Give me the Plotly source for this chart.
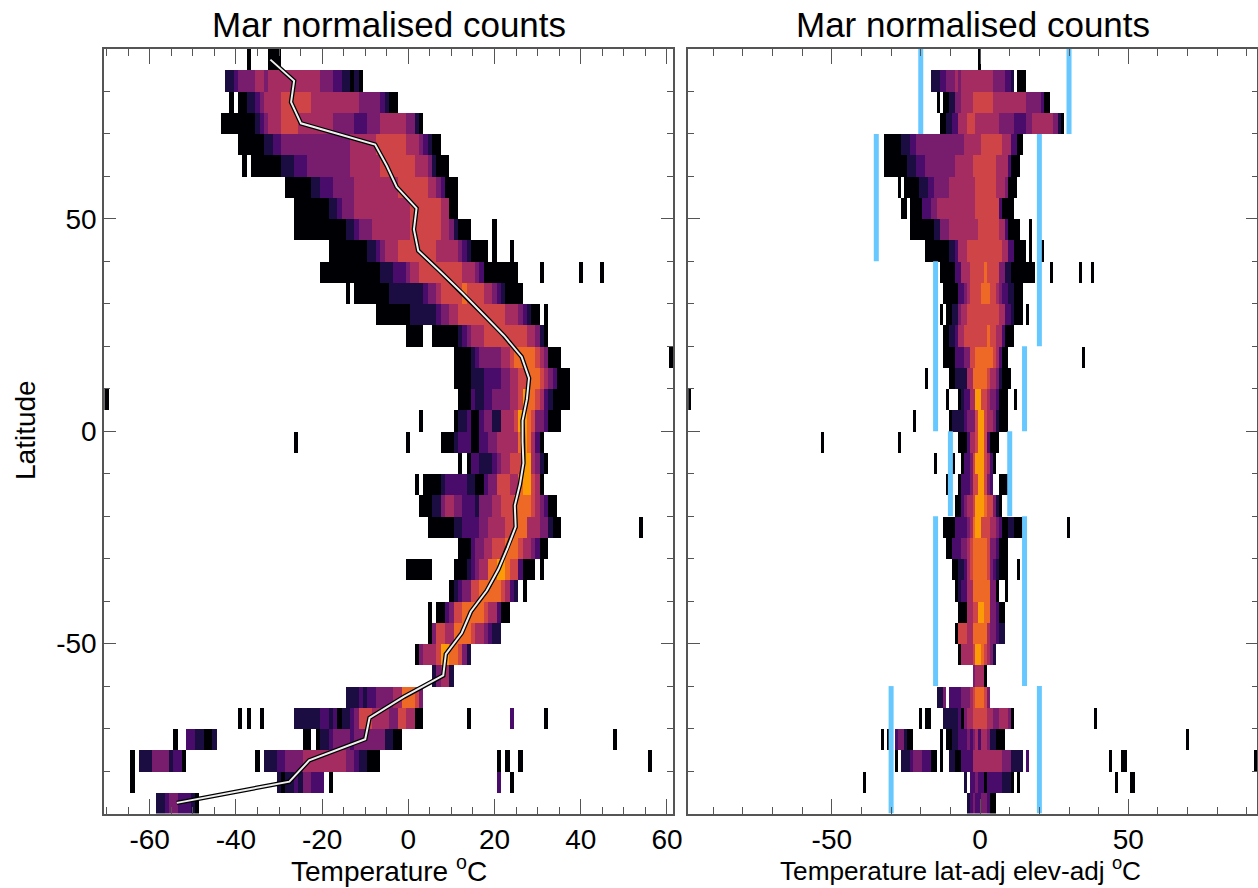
import plotly.graph_objects as go

# ---- latitude bands (centres, north to south); temperature bins are 1 degree wide ----
lat_centres = [87.5 - 5 * i for i in range(36)]
left_bins = list(range(-70, 62))
right_bins = list(range(-98, 94))

# colour levels of the normalised counts
level_colours = ["#000004", "#1b0c41", "#4a0c6b", "#781c6d", "#a52c60", "#cf4446", "#ed6925", "#fb9b06"]

# each row: runs of (first temperature bin, last temperature bin, level)
left_rows = [
 [(-37,-37,0),(-32,-30,0)],
 [(-42,-41,1),(-40,-40,2),(-39,-36,3),(-35,-34,4),(-33,-33,3),(-32,-21,4),(-20,-18,3),(-17,-16,2),(-15,-14,1),(-13,-13,0),(-12,-12,1),(-11,-11,0)],
 [(-41,-41,0),(-39,-38,0),(-37,-36,1),(-35,-35,2),(-34,-34,3),(-33,-30,4),(-29,-23,5),(-22,-12,4),(-11,-7,3),(-6,-6,2),(-5,-5,1),(-4,-3,0)],
 [(-43,-36,0),(-35,-35,1),(-34,-34,2),(-33,-33,3),(-32,-30,4),(-29,-26,5),(-25,-18,4),(-17,-13,3),(-12,-10,2),(-9,-7,3),(-6,-1,4),(0,1,3),(2,2,1),(3,3,0)],
 [(-39,-34,0),(-33,-32,1),(-31,-30,2),(-29,-14,3),(-13,-8,4),(-7,-1,5),(0,2,4),(3,3,3),(4,4,2),(5,5,1),(6,7,0)],
 [(-38,-38,0),(-36,-30,0),(-29,-27,1),(-26,-24,2),(-23,-14,3),(-13,-7,4),(-6,1,5),(2,4,4),(5,5,3),(6,6,1),(7,9,0)],
 [(-28,-23,0),(-22,-21,1),(-20,-18,2),(-17,-13,3),(-12,-3,4),(-2,4,5),(5,6,4),(7,7,3),(8,8,2),(9,11,0)],
 [(-26,-19,0),(-18,-17,1),(-16,-16,2),(-15,-13,3),(-12,0,4),(1,7,5),(8,9,4),(10,11,0)],
 [(-26,-15,0),(-14,-13,1),(-12,-12,2),(-11,-9,3),(-8,0,4),(1,7,5),(8,9,4),(10,10,3),(11,11,1),(12,14,0),(20,20,0)],
 [(-18,-10,0),(-9,-8,1),(-7,-7,2),(-6,-6,3),(-5,-3,4),(-2,6,5),(7,11,4),(12,12,3),(13,13,2),(14,14,1),(15,18,0),(20,20,0),(24,24,0)],
 [(-20,-7,0),(-6,-4,1),(-3,-1,2),(0,0,3),(1,2,4),(3,12,5),(13,15,4),(16,16,3),(17,17,2),(18,25,0),(31,31,0),(40,40,0),(45,45,0)],
 [(-14,-14,0),(-12,-5,0),(-4,3,1),(4,4,2),(5,6,3),(7,7,4),(8,12,5),(13,13,6),(14,17,5),(18,19,4),(20,20,3),(21,21,2),(22,22,1),(23,26,0)],
 [(-7,0,0),(1,6,1),(7,7,2),(8,9,3),(10,11,4),(12,22,5),(23,25,4),(26,26,3),(27,27,2),(28,28,1),(29,30,0),(32,32,0)],
 [(0,3,0),(6,11,0),(12,12,1),(13,13,2),(14,14,3),(15,17,4),(18,27,5),(28,29,4),(30,30,3),(31,31,1),(32,32,0)],
 [(11,14,0),(15,15,1),(16,16,2),(17,21,3),(22,23,4),(24,24,5),(25,29,6),(30,30,5),(31,31,4),(32,32,3),(33,35,0),(61,61,0)],
 [(11,14,0),(15,17,1),(18,21,2),(22,23,3),(24,25,4),(26,27,5),(28,30,6),(31,31,5),(32,32,4),(33,33,3),(34,34,2),(35,37,0)],
 [(-70,-70,0),(12,14,0),(15,15,2),(16,17,1),(18,19,2),(20,23,3),(24,25,4),(26,26,5),(27,27,7),(28,29,6),(30,30,5),(31,31,4),(32,32,2),(33,33,1),(34,37,0)],
 [(3,3,0),(11,11,0),(12,13,1),(14,14,2),(15,16,0),(17,17,2),(18,19,3),(20,21,1),(22,24,4),(25,25,5),(26,26,7),(27,27,7),(28,28,6),(29,29,5),(30,31,3),(32,32,2),(33,35,0)],
 [(-26,-26,0),(0,0,0),(8,10,0),(11,11,1),(12,14,2),(15,16,0),(17,18,2),(19,20,3),(21,25,4),(26,26,6),(27,27,7),(28,28,6),(29,29,4),(30,30,2),(31,31,0)],
 [(12,12,0),(14,14,0),(15,16,2),(17,19,1),(20,20,2),(21,21,3),(22,23,4),(24,26,5),(27,28,7),(29,29,4),(30,30,3),(31,31,1),(32,32,0)],
 [(2,2,0),(4,7,0),(8,8,1),(9,10,2),(11,13,2),(14,15,1),(16,17,0),(18,18,2),(19,20,3),(21,23,5),(24,25,4),(26,26,6),(27,28,7),(29,29,5),(30,30,4),(31,31,0)],
 [(3,5,0),(6,7,1),(8,8,3),(9,10,4),(11,12,3),(13,15,2),(16,16,1),(17,19,3),(20,21,4),(22,24,5),(25,28,6),(29,29,5),(30,30,4),(31,31,3),(32,32,2),(33,34,0)],
 [(5,10,0),(11,12,1),(13,16,2),(17,18,3),(19,22,4),(23,24,5),(25,27,6),(28,30,4),(31,32,3),(33,33,1),(34,35,0),(54,54,0)],
 [(12,14,0),(15,15,2),(16,17,3),(18,19,4),(20,22,5),(23,25,6),(26,26,5),(27,28,4),(29,29,3),(30,30,2),(31,32,0)],
 [(0,5,0),(11,13,0),(14,14,1),(15,15,2),(16,16,3),(17,18,4),(19,20,6),(21,22,7),(23,23,6),(24,25,5),(26,26,2),(27,29,0),(31,31,0)],
 [(10,10,0),(11,11,1),(12,12,2),(13,14,3),(15,16,5),(17,21,6),(22,22,5),(23,23,4),(24,24,2),(25,25,1),(27,27,0)],
 [(5,5,0),(7,8,0),(9,9,2),(10,10,3),(11,12,5),(13,17,6),(18,18,5),(19,20,4),(21,21,2),(22,23,0)],
 [(5,5,0),(6,6,3),(7,8,5),(9,10,4),(11,14,6),(15,15,5),(16,17,4),(18,18,3),(19,19,2),(20,21,1)],
 [(2,2,0),(3,3,3),(4,6,4),(7,7,5),(8,9,7),(10,11,6),(12,12,5),(13,13,3),(14,14,1)],
 [(6,6,1),(7,7,3),(8,9,4),(10,10,1)],
 [(-14,-12,1),(-11,-11,2),(-10,-10,1),(-9,-8,2),(-7,-4,3),(-3,-2,4),(-1,1,6),(2,2,5),(3,3,3)],
 [(-39,-39,0),(-37,-37,0),(-34,-34,0),(-26,-21,1),(-20,-19,2),(-18,-18,1),(-17,-17,2),(-16,-16,0),(-15,-14,1),(-13,-13,2),(-12,-12,3),(-11,-9,5),(-8,-5,4),(-4,-3,3),(-2,-1,5),(0,1,4),(2,3,0),(14,14,0),(24,24,2),(32,32,0)],
 [(-54,-54,0),(-51,-50,2),(-49,-48,1),(-47,-46,0),(-45,-45,1),(-24,-23,0),(-21,-21,0),(-20,-19,1),(-18,-18,2),(-17,-14,3),(-13,-13,2),(-12,-6,3),(-5,-4,1),(-3,-2,0),(48,48,0)],
 [(-64,-64,0),(-62,-60,1),(-59,-56,3),(-55,-55,1),(-54,-53,2),(-52,-52,0),(-35,-35,0),(-33,-31,1),(-30,-29,2),(-28,-25,3),(-24,-15,4),(-14,-13,3),(-12,-12,2),(-11,-10,1),(-9,-7,0),(21,21,0),(23,23,0),(26,26,0),(56,56,0)],
 [(-64,-64,0),(-30,-30,1),(-29,-29,0),(-28,-27,1),(-26,-26,2),(-25,-25,1),(-24,-23,3),(-22,-20,2),(-18,-18,0),(21,21,2),(24,24,0)],
 [(-58,-57,1),(-56,-56,2),(-55,-54,3),(-53,-51,2),(-50,-50,1),(-49,-49,0)],
]

right_rows = [
 [(0,0,0)],
 [(-16,-14,1),(-13,-12,2),(-11,-9,3),(-8,-8,4),(-7,-7,3),(-6,4,4),(5,8,3),(9,10,2),(11,11,1),(13,15,0)],
 [(-14,-14,0),(-12,-11,0),(-10,-9,1),(-8,-7,3),(-6,-3,4),(-2,4,5),(5,15,4),(16,20,3),(21,21,2),(22,23,0)],
 [(-13,-12,0),(-11,-10,1),(-9,-8,2),(-7,-5,4),(-4,-2,5),(-1,6,4),(7,11,3),(12,15,2),(16,17,3),(18,24,4),(25,26,3),(27,27,1),(28,28,0)],
 [(-32,-27,0),(-26,-24,1),(-23,-22,2),(-21,-6,3),(-5,0,4),(1,7,5),(8,10,4),(11,12,2),(13,14,0)],
 [(-32,-25,0),(-24,-22,1),(-21,-19,2),(-18,-9,3),(-8,-3,4),(-2,5,5),(6,9,4),(10,10,2),(11,13,0)],
 [(-27,-27,0),(-25,-21,0),(-20,-18,1),(-17,-16,2),(-15,-11,3),(-10,-2,4),(-1,5,5),(6,8,4),(9,9,3),(10,12,0)],
 [(-26,-25,0),(-23,-20,0),(-19,-17,2),(-16,-15,3),(-14,-2,4),(-1,6,5),(7,7,2),(8,11,0)],
 [(-23,-16,0),(-15,-14,1),(-13,-11,3),(-10,-1,4),(0,6,5),(7,8,4),(9,9,2),(10,13,0),(17,17,0)],
 [(-18,-11,0),(-10,-9,1),(-8,-8,2),(-7,-5,4),(-4,7,5),(8,9,4),(10,11,2),(12,15,0),(17,17,0),(21,21,0)],
 [(-13,-9,0),(-8,-7,2),(-6,-4,4),(-3,1,5),(2,2,6),(3,6,5),(7,8,3),(9,10,1),(11,18,0),(24,24,0),(34,34,0),(38,38,0)],
 [(-12,-8,0),(-7,-6,2),(-5,-5,3),(-4,-4,4),(-3,0,5),(1,3,6),(4,5,5),(6,6,4),(7,7,3),(8,9,2),(10,11,1),(12,14,0)],
 [(-13,-13,0),(-11,-10,0),(-9,-8,1),(-7,-7,3),(-6,-5,4),(-4,6,5),(7,8,4),(9,10,2),(11,11,1),(12,14,0),(16,16,0)],
 [(-12,-11,0),(-10,-9,1),(-8,-8,2),(-7,-6,4),(-5,2,5),(3,3,6),(4,5,5),(6,7,4),(8,8,2),(9,11,0)],
 [(-12,-9,0),(-8,-6,2),(-5,-4,3),(-3,-2,5),(-1,4,6),(5,5,5),(6,6,4),(7,7,2),(8,9,0),(35,35,0)],
 [(-18,-18,0),(-10,-9,0),(-8,-5,1),(-4,-3,4),(-2,2,6),(3,3,5),(4,5,4),(6,6,3),(7,7,1),(8,10,0)],
 [(-98,-98,0),(-11,-11,0),(-7,-7,0),(-6,-6,1),(-5,-4,2),(-3,-2,4),(-1,0,7),(1,2,5),(3,3,4),(4,5,3),(6,6,2),(7,9,0),(12,12,0)],
 [(-22,-22,0),(-10,-10,0),(-9,-8,1),(-7,-6,1),(-5,-5,2),(-4,-2,3),(-1,-1,5),(0,1,7),(2,2,5),(3,4,4),(5,5,3),(6,6,1),(7,9,0)],
 [(-53,-53,0),(-27,-27,0),(-7,-5,0),(-4,-4,2),(-3,-2,4),(-1,-1,5),(0,1,7),(2,2,5),(3,3,2),(4,6,0)],
 [(-15,-15,0),(-9,-9,0),(-6,-6,0),(-5,-4,2),(-3,-3,3),(-2,-2,5),(-1,1,7),(2,2,5),(3,3,4),(4,4,2),(5,5,0)],
 [(-11,-11,0),(-7,-7,0),(-6,-4,2),(-3,-3,3),(-2,-1,5),(0,1,7),(2,2,5),(3,3,3),(4,4,2),(7,9,0)],
 [(-8,-7,0),(-6,-6,2),(-5,-5,3),(-4,-3,4),(-2,-2,5),(-1,1,7),(2,2,6),(3,4,5),(5,5,3),(6,6,1),(7,7,0)],
 [(-12,-9,0),(-8,-5,2),(-4,-4,3),(-3,-3,4),(-2,-2,6),(-1,0,7),(1,3,5),(4,5,4),(6,6,3),(7,7,2),(8,9,0),(10,11,1),(12,14,0),(30,30,0)],
 [(-11,-10,0),(-9,-7,2),(-6,-5,3),(-4,-4,4),(-3,-3,5),(-2,2,6),(3,3,5),(4,5,3),(6,6,2),(7,9,0)],
 [(-9,-8,0),(-7,-6,1),(-5,-5,2),(-4,-4,4),(-3,-3,5),(-2,2,6),(3,3,5),(4,4,3),(5,5,2),(6,6,1),(7,9,0),(13,13,0)],
 [(-8,-8,0),(-7,-7,1),(-6,-5,2),(-4,-3,4),(-2,3,6),(4,5,3),(6,6,0),(9,9,0)],
 [(-7,-5,0),(-4,-3,4),(-2,-1,5),(0,1,7),(2,3,6),(4,5,3),(6,6,2),(7,8,0)],
 [(-8,-8,0),(-7,-5,5),(-4,-3,4),(-2,2,6),(3,3,4),(4,5,3),(6,6,2),(7,8,1)],
 [(-7,-7,0),(-6,-3,4),(-2,-2,5),(-1,0,7),(1,1,6),(2,2,5),(3,3,4),(4,4,3),(5,5,1)],
 [(-2,-2,3),(-1,1,4),(2,2,0)],
 [(-14,-13,1),(-12,-12,3),(-10,-7,2),(-6,-4,3),(-3,-3,4),(-2,-2,5),(-1,1,6),(2,2,5),(3,3,3)],
 [(-20,-20,0),(-18,-17,0),(-12,-8,1),(-7,-7,2),(-6,-6,0),(-5,-5,3),(-4,-3,4),(-2,2,5),(3,4,4),(5,6,3),(7,9,4),(10,10,3),(11,11,0),(39,39,0)],
 [(-33,-33,0),(-31,-31,0),(-28,-28,2),(-27,-26,3),(-25,-25,1),(-24,-23,0),(-13,-13,0),(-11,-10,0),(-9,-8,1),(-7,-5,2),(-4,-4,3),(-3,-3,2),(-2,-2,3),(-1,-1,4),(0,0,2),(1,2,4),(3,3,3),(4,5,1),(6,8,0),(70,70,0)],
 [(-28,-28,0),(-26,-24,1),(-23,-23,2),(-22,-21,3),(-20,-20,3),(-19,-17,2),(-16,-15,0),(-13,-13,0),(-10,-9,1),(-8,-7,0),(-6,-3,2),(-2,7,4),(8,10,3),(11,14,1),(16,16,2),(44,44,0),(48,49,0),(93,93,0)],
 [(-39,-39,0),(-5,-5,1),(-3,-2,2),(-1,-1,3),(0,1,2),(2,2,0),(3,7,2),(8,10,1),(11,11,0),(13,13,0),(46,46,0),(51,52,0)],
 [(-4,-4,1),(-3,-3,2),(-2,-2,3),(-1,0,2),(1,2,3),(3,3,2),(4,5,0)],
]

# zonal mean temperature for each latitude band
zonal_mean = [-32, -26.5, -27.2, -24.9, -7.7, -5, -2.7, 1.9, 1.3, 2.3, 7.5, 12.6, 17.4, 22.2, 26.3, 28,
              27.5, 26.5, 26.5, 26.7, 25.9, 24.7, 24.9, 23, 20.9, 18.2, 14.5, 12.4, 8.7, 8.1, -1, -9, -10,
              -23, -27.6, -53.7]

# quality-control limits on the adjusted temperature: (lat north, lat south, limit)
lower_limits = [(90, 70, -20), (70, 40, -35), (40, 0, -15), (0, -20, -10), (-20, -60, -15), (-60, -90, -30)]
upper_limits = [(90, 70, 30), (70, 20, 20), (20, 0, 15), (0, -20, 10), (-20, -60, 15), (-60, -90, 20)]

left_ticks = [-60, -40, -20, 0, 20, 40, 60]
right_ticks = [-50, 0, 50]
lat_ticks = [-50, 0, 50]
title_text = "Mar normalised counts"


def grid(rows, bins):
    index = {b: i for i, b in enumerate(bins)}
    z = []
    for runs in rows:
        row = [None] * len(bins)
        for first, last, level in runs:
            for b in range(first, last + 1):
                row[index[b]] = level + 0.5
        z.append(row)
    return z


scale = []
n = len(level_colours)
for i, c in enumerate(level_colours):
    scale += [[i / n, c], [(i + 1) / n, c]]

FONT = "Liberation Sans, Arial, sans-serif"
AX = "#555555"
fig = go.Figure()
for rows, bins, xa, ya in [(left_rows, left_bins, "x", "y"), (right_rows, right_bins, "x2", "y2")]:
    fig.add_trace(go.Heatmap(x=bins, y=lat_centres, z=grid(rows, bins), xaxis=xa, yaxis=ya,
                             colorscale=scale, zmin=0, zmax=n, showscale=False, hoverongaps=False))

fig.add_trace(go.Scatter(x=zonal_mean, y=lat_centres, mode="lines", line=dict(color="black", width=4.5), xaxis="x", yaxis="y"))
fig.add_trace(go.Scatter(x=zonal_mean, y=lat_centres, mode="lines", line=dict(color="#eeeeee", width=2), xaxis="x", yaxis="y"))

for limits in (lower_limits, upper_limits):
    xs, ys = [], []
    for north, south, lim in limits:
        xs += [lim, lim, None]
        ys += [north, south, None]
    fig.add_trace(go.Scatter(x=xs, y=ys, mode="lines", line=dict(color="#66c8ff", width=5), xaxis="x2", yaxis="y2"))

axis_common = dict(showgrid=False, zeroline=False, showline=True, linecolor=AX, linewidth=1.6, mirror="ticks",
                   automargin=False, ticks="inside", tickcolor=AX, tickwidth=1.2,
                   tickfont=dict(family=FONT, size=28, color="black"))
PW, PH = 1258, 888
ydom = [(PH - 813.5) / PH, (PH - 49) / PH]


def minor(step, length):
    return dict(dtick=step, ticks="inside", ticklen=length, tickcolor=AX, showgrid=False)


fig.update_layout(
    template="none",
    width=PW, height=PH, margin=dict(l=0, r=0, t=0, b=0), paper_bgcolor="white", plot_bgcolor="white",
    showlegend=False,
    xaxis=dict(domain=[104 / PW, 673 / PW], range=[-70.6, 61.4], tickmode="array", tickvals=left_ticks,
               ticktext=[str(v) for v in left_ticks], ticklen=15, minor=minor(5, 7), **axis_common),
    yaxis=dict(domain=ydom, range=[-90, 90], tickmode="array", tickvals=lat_ticks,
               ticktext=[str(v) for v in lat_ticks], ticklen=12, minor=minor(10, 6), **axis_common),
    xaxis2=dict(domain=[688.3 / PW, 1257.3 / PW], range=[-98.4, 93.5], tickmode="array", tickvals=right_ticks,
                ticktext=[str(v) for v in right_ticks], ticklen=15, anchor="y2", minor=minor(10, 7), **axis_common),
    yaxis2=dict(domain=ydom, range=[-90, 90], anchor="x2", tickmode="array", tickvals=lat_ticks, showticklabels=False,
                ticklen=12, minor=minor(10, 6), **axis_common),
    annotations=[
        dict(text=title_text, x=388.5 / PW, y=(PH - 25) / PH, xref="paper", yref="paper", showarrow=False,
             xanchor="center", yanchor="middle", font=dict(family=FONT, size=35, color="black")),
        dict(text=title_text, x=972.5 / PW, y=(PH - 25) / PH, xref="paper", yref="paper", showarrow=False,
             xanchor="center", yanchor="middle", font=dict(family=FONT, size=35, color="black")),
        dict(text="Temperature <sup>o</sup>C", x=389 / PW, y=(PH - 869) / PH, xref="paper", yref="paper", showarrow=False,
             xanchor="center", yanchor="middle", font=dict(family=FONT, size=28, color="black")),
        dict(text="Temperature lat-adj elev-adj <sup>o</sup>C", x=960 / PW, y=(PH - 869) / PH, xref="paper", yref="paper",
             showarrow=False, xanchor="center", yanchor="middle", font=dict(family=FONT, size=26.2, color="black")),
        dict(text="Latitude", x=25 / PW, y=(PH - 430) / PH, xref="paper", yref="paper", showarrow=False, textangle=-90,
             xanchor="center", yanchor="middle", font=dict(family=FONT, size=28, color="black")),
    ],
)
fig.write_html("out.html", config={"displayModeBar": False}, post_script="document.body.style.margin='0';")
